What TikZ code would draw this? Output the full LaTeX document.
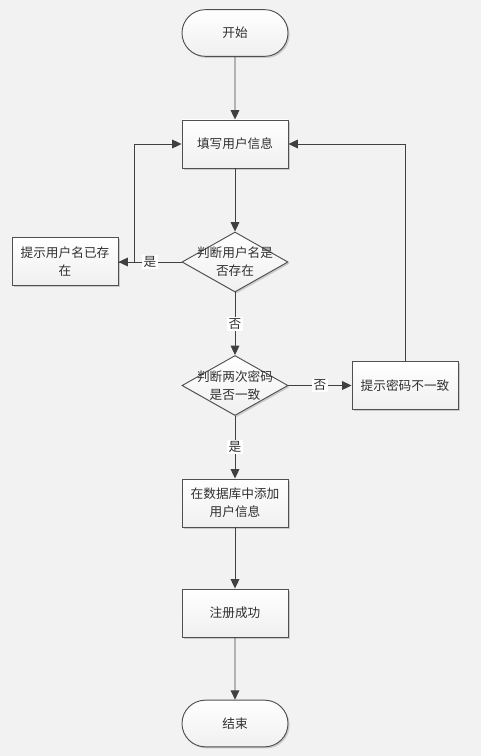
\documentclass[tikz,border=0pt]{standalone}
\usepackage{fontspec}
\setmainfont{Noto Sans CJK SC}
\usetikzlibrary{arrows.meta,shapes.geometric,shapes.misc,shadows}
\definecolor{bgc}{HTML}{F2F2F2}
\definecolor{edgec}{HTML}{505050}
\definecolor{linec}{HTML}{404040}
\definecolor{txtc}{HTML}{303030}
\tikzset{
  base/.style={draw=edgec, line width=0.7pt, top color=white, bottom color=gray!12,
    text=txtc, font=\fontsize{9.5pt}{13.5pt}\selectfont, align=center, inner sep=0pt,
    drop shadow={shadow xshift=1.2pt, shadow yshift=-1.2pt, opacity=0.35, fill=gray}},
  procbox/.style={base, rectangle, minimum width=79.5pt, minimum height=36pt},
  term/.style={base, rounded rectangle, minimum width=79.5pt, minimum height=35pt},
  decide/.style={base, diamond, minimum width=79.5pt, minimum height=45pt},
  dtext/.style={text=txtc, font=\fontsize{9.5pt}{13.5pt}\selectfont, align=center, inner sep=0pt},
  conn/.style={draw=linec, line width=0.7pt, -{Triangle[length=7pt,width=6.5pt]}},
  lbl/.style={fill=white, text=txtc, font=\fontsize{9.5pt}{10pt}\selectfont, inner sep=1pt}
}
\begin{document}
\begin{tikzpicture}[x=0.75pt,y=-0.75pt]
\fill[bgc] (0,0) rectangle (481,756);
\useasboundingbox (0,0) rectangle (481,756);
\node[term] (start) at (235,33) {开始};
\node[procbox] (fill) at (235,144) {填写用户信息};
\node[decide] (d1) at (235,262) {};
\node[dtext] (d1t) at (d1.center) {判断用户名是\\否存在};
\node[procbox] (tip1) at (65,261.5) {提示用户名已存\\在};
\node[decide] (d2) at (235,385.5) {};
\node[dtext] (d2t) at (d2.center) {判断两次密码\\是否一致};
\node[procbox] (tip2) at (405,385.5) {提示密码不一致};
\node[procbox] (db) at (235,503) {在数据库中添加\\用户信息};
\node[procbox] (ok) at (235,613) {注册成功};
\node[term] (end) at (235,723.5) {结束};

\draw[conn] (start) -- (fill);
\draw[conn] (fill) -- (d1);
\draw[conn] (d1.west) -- node[lbl, pos=0.5] {是} (d1.west -| tip1.east);
\draw[conn] (tip1.east |- d1.west) -- ++(16,0) |- (fill.west);
\draw[conn] (d1.south) -- node[lbl, pos=0.5] {否} (d2.north);
\draw[conn] (d2.east) -- node[lbl, pos=0.5] {否} (tip2.west);
\draw[conn] (tip2.north) |- (fill.east);
\draw[conn] (d2.south) -- node[lbl, pos=0.5] {是} (db.north);
\draw[conn] (db) -- (ok);
\draw[conn] (ok) -- (end);
\end{tikzpicture}
\end{document}
